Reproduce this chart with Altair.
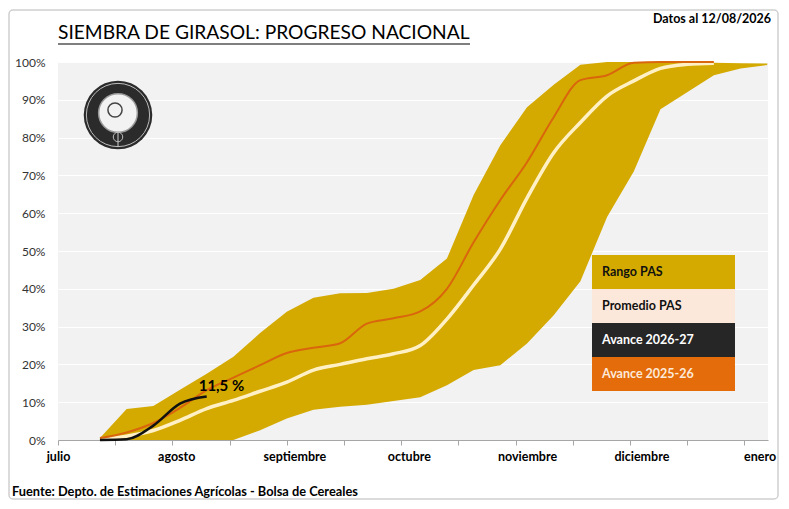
import altair as alt
import pandas as pd

# ---------------- data ----------------
week_days = [11, 18, 25, 32, 39, 46, 53, 60, 67, 74, 81, 88, 95, 102, 109, 116,
             123, 130, 137, 144, 151, 158, 165, 172, 179, 186]
rango_min = [0, 0, 0, 0, 0, 0, 2.6, 5.7, 8.0, 8.8, 9.3, 10.3, 11.3, 14.5, 18.5, 19.8,
             25.5, 33.0, 42.0, 59.0, 71.0, 87.5, 92.0, 96.5, 98.3, 99.2]
rango_max = [0.5, 8.2, 9.0, 13.3, 17.5, 22.0, 28.3, 33.9, 37.6, 38.8, 38.9, 40.0, 42.3, 48.0, 64.8, 78.0,
             88.0, 94.0, 99.3, 100, 100, 100, 100, 99.8, 99.7, 99.6]
promedio = [0.3, 1.0, 2.5, 5.2, 8.3, 10.5, 12.9, 15.3, 18.5, 20.0, 21.5, 22.8, 25.0, 32.0, 41.0, 50.5,
            64.0, 76.0, 84.0, 91.0, 95.0, 98.3, 99.4, 99.7, None, None]
avance_2025 = [0.5, 2.0, 4.5, 8.5, 13.2, 16.5, 19.8, 23.0, 24.4, 25.6, 30.8, 32.2, 34.0, 40.0, 52.3, 63.5,
               73.5, 85.4, 95.2, 96.5, 99.8, 100, 100, 100, None, None]
avance_2026_days = [11, 18, 25, 32, 39]
avance_2026 = [0, 0.2, 3.8, 9.6, 11.5]

month_days = [0, 31, 62, 92, 123, 153, 184]
month_names = ["julio", "agosto", "septiembre", "octubre", "noviembre", "diciembre", "enero"]
tick_days = [0, 15, 30, 45, 60, 75, 90, 105, 120, 135, 150, 165, 180]
y_ticks = [0, 10, 20, 30, 40, 50, 60, 70, 80, 90, 100]

legend_labels = ["Rango PAS", "Promedio PAS", "Avance 2026-27", "Avance 2025-26"]

title_text = "SIEMBRA DE GIRASOL: PROGRESO NACIONAL"
date_text = "Datos al 12/08/2026"
source_text = "Fuente: Depto. de Estimaciones Agrícolas - Bolsa de Cereales"

# ---------------- styles ----------------
FONT = "Lato"
C_BAND = "#D4AA00"
C_PROM = "#FFF0C6"
C_2025 = "#D9660C"
C_2026 = "#111111"
legend_fill = ["#D4AA00", "#FCE8DA", "#262626", "#E46C0A"]

band_df = pd.DataFrame({"day": week_days, "lo": rango_min, "hi": rango_max})
prom_df = pd.DataFrame({"day": week_days, "v": promedio}).dropna()
a25_df = pd.DataFrame({"day": week_days, "v": avance_2025}).dropna()
a26_df = pd.DataFrame({"day": avance_2026_days, "v": avance_2026})
last_df = a26_df.tail(1).copy()
last_df["txt"] = last_df["v"].map(lambda v: f"{v:.1f}".replace(".", ",") + " %")
leg_df = pd.DataFrame({"label": legend_labels})
one = alt.Data(values=[{"t": 1}])

all_x_values = sorted(set(tick_days + month_days))
label_expr = (
    "indexof(" + str(month_days) + ", datum.value) >= 0 ? "
    + str(month_names) + "[indexof(" + str(month_days) + ", datum.value)] : ''"
)

xscale = alt.Scale(domain=[0, 186.2], nice=False, zero=False)
yscale = alt.Scale(domain=[0, 100], nice=False)

x_axis = alt.Axis(
    values=all_x_values, labelExpr=label_expr, title=None, grid=False,
    tickOpacity={"condition": {"test": "datum.value % 15 == 0", "value": 1}, "value": 0},
    tickSize=5, tickColor="#a6a6a6", domainColor="#a6a6a6", domainWidth=1.2,
    labelFont=FONT, labelFontSize=12.5, labelFontWeight="bold", labelColor="#000000",
    labelPadding=5, labelOverlap=False, labelFlush=False, labelBound=False,
)
y_axis = alt.Axis(
    values=y_ticks, labelExpr="datum.value + '%'", title=None, domain=False, ticks=False,
    grid=True, gridColor="#ffffff", gridWidth=1, labelPadding=13, labelOverlap=False,
    labelFont=FONT, labelFontSize=12, labelColor="#333333",
)

def X(field):
    return alt.X(field, scale=xscale, axis=x_axis)

def Y(field):
    return alt.Y(field, scale=yscale, axis=y_axis)

band = alt.Chart(band_df).mark_area(color=C_BAND, opacity=1).encode(
    x=X("day:Q"), y=Y("lo:Q"), y2="hi:Q")
prom_line = alt.Chart(prom_df).mark_line(color=C_PROM, strokeWidth=3.5, interpolate="monotone").encode(
    x=X("day:Q"), y=Y("v:Q"))
a25_line = alt.Chart(a25_df).mark_line(color=C_2025, strokeWidth=2, interpolate="monotone").encode(
    x=X("day:Q"), y=Y("v:Q"))
a26_line = alt.Chart(a26_df).mark_line(color=C_2026, strokeWidth=2.5, interpolate="monotone").encode(
    x=X("day:Q"), y=Y("v:Q"))
last_label = alt.Chart(last_df).mark_text(
    font=FONT, fontSize=15, fontWeight="bold", color="#000000",
    align="left", baseline="bottom", dx=-8, dy=-3,
).encode(x=X("day:Q"), y=Y("v:Q"), text="txt:N")

main = alt.layer(band, prom_line, a25_line, a26_line, last_label)

# custom legend blocks
leg_scale = alt.Scale(domain=legend_labels, range=[193, 329], paddingInner=0, paddingOuter=0)
leg_rect = alt.Chart(leg_df).mark_rect().encode(
    x=alt.value(534), x2=alt.value(677),
    y=alt.Y("label:N", scale=leg_scale, axis=None),
    color=alt.Color("label:N", scale=alt.Scale(domain=legend_labels, range=legend_fill), legend=None),
)
leg_text = alt.Chart(leg_df).mark_text(
    font=FONT, fontSize=12.5, fontWeight="bold", align="left", baseline="middle",
).encode(
    x=alt.value(544),
    y=alt.Y("label:N", scale=leg_scale, axis=None, bandPosition=0.5),
    text="label:N",
    color={"condition": [
        {"test": "datum.label == 'Avance 2026-27'", "value": "#ffffff"},
        {"test": "datum.label == 'Avance 2025-26'", "value": "#FDE9D9"},
    ], "value": "#111111"},
)
legend = alt.layer(leg_rect, leg_text)

# logo (decorative emblem)
LX, LY = 60, 53
logo_outer = alt.Chart(one).mark_point(shape="circle", filled=True, color="#2b2b2b", opacity=1).encode(
    x=alt.value(LX), y=alt.value(LY), size=alt.value(4700))
logo_ring = alt.Chart(one).mark_point(shape="circle", filled=False, color="#bdbdbd", strokeWidth=1, opacity=1).encode(
    x=alt.value(LX), y=alt.value(LY), size=alt.value(4000))
logo_inner = alt.Chart(one).mark_point(shape="circle", filled=True, color="#f2f2f2", stroke="#9a9a9a", strokeWidth=1.5, opacity=1).encode(
    x=alt.value(LX), y=alt.value(LY - 2), size=alt.value(1500))
logo_head = alt.Chart(one).mark_point(shape="circle", filled=False, color="#444444", strokeWidth=1.5, opacity=1).encode(
    x=alt.value(LX - 3), y=alt.value(LY - 5), size=alt.value(200))
logo_base = alt.Chart(one).mark_rule(color="#cfcfcf", strokeWidth=1).encode(
    x=alt.value(LX), y=alt.value(LY + 18), y2=alt.value(LY + 32))
logo_leaf = alt.Chart(one).mark_point(shape="circle", filled=False, color="#bdbdbd", strokeWidth=1, opacity=1).encode(
    x=alt.value(LX), y=alt.value(LY + 22), size=alt.value(90))

# texts
title = alt.Chart(one).mark_text(
    text=title_text, font=FONT, fontSize=19.2, color="#000000", align="left", baseline="alphabetic",
).encode(x=alt.value(0), y=alt.value(-23))
underline = alt.Chart(one).mark_rule(color="#000000", strokeWidth=1.2).encode(
    x=alt.value(0), x2=alt.value(412), y=alt.value(-18))
date_lbl = alt.Chart(one).mark_text(
    text=date_text, font=FONT, fontSize=12.5, fontWeight="bold", color="#000000", align="right", baseline="middle",
).encode(x=alt.value(713), y=alt.value(-43))
source_lbl = alt.Chart(one).mark_text(
    text=source_text, font=FONT, fontSize=12.8, fontWeight="bold", color="#000000", align="left", baseline="middle",
).encode(x=alt.value(-46), y=alt.value(430))
frame = alt.Chart(one).mark_rect(fillOpacity=0, stroke="#cfcfcf", strokeWidth=1.5, cornerRadius=4).encode(
    x=alt.value(-49), x2=alt.value(720), y=alt.value(-52), y2=alt.value(437))

chart = alt.layer(
    main, legend, logo_outer, logo_ring, logo_inner, logo_head, logo_base, logo_leaf,
    title, underline, date_lbl, source_lbl, frame,
).resolve_scale(y="independent").properties(
    width=710, height=378,
    autosize=alt.AutoSizeParams(type="none"),
    padding={"left": 50, "top": 54, "right": 13, "bottom": 61},
    background="#ffffff",
).configure(font=FONT).configure_view(fill="#F2F2F2", stroke=None).configure_axis(labelOverlap=False)

chart.save("out.html", embed_options={"renderer": "svg", "actions": False})
